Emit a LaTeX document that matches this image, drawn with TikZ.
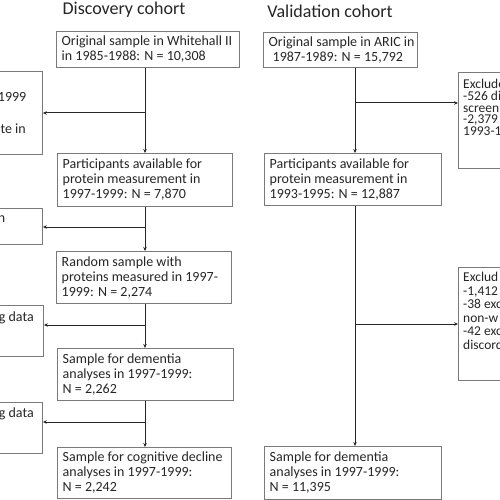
\documentclass[tikz,border=0pt]{standalone}
\usepackage{fontspec}
\setmainfont{Carlito}
\usetikzlibrary{arrows.meta}
\definecolor{boxgray}{HTML}{7A7A7A}
\definecolor{txt}{HTML}{262626}
\tikzset{
  every node/.style={text=txt},
  btxt/.style={font=\fontsize{14}{15}\selectfont, align=left},
  stxt/.style={font=\fontsize{13.5}{11.8}\selectfont, anchor=north west, inner sep=0pt, align=left},
  ftxt/.style={font=\fontsize{14}{15}\selectfont, anchor=base east, inner sep=0pt},
  title/.style={font=\fontsize{18}{20}\selectfont},
  cut/.style={draw=boxgray, line width=0.9pt, anchor=north west, inner sep=0pt},
  conn/.style={draw=black!85, line width=1pt},
  arr/.style={conn, -{Stealth[length=4pt,width=3.5pt]}}
}
\newcommand{\mybox}[6]{% name, x1, y1, x2, y2, text
  \node[draw=boxgray, line width=0.9pt, inner sep=0pt, anchor=north west,
        minimum width={(#4-#2)*1pt}, minimum height={(#5-#3)*1pt}] (#1) at (#2,#3) {};
  \node[btxt, anchor=west, inner sep=0pt] (#1t) at ([xshift=5.5pt]#1.west) {#6};
}
\begin{document}
\begin{tikzpicture}[x=1pt,y=-1pt]
\useasboundingbox (0,0) rectangle (500,500);
\clip (0,0) rectangle (500,500);
\fill[white] (0,0) rectangle (500,500);

% titles
\node[title] (tdisc) at (124,10) {Discovery cohort};
\node[title] (tval) at (330,11) {Validation cohort};

% discovery boxes
\mybox{d1}{56}{31}{239}{67}{Original sample in Whitehall II\\in 1985-1988: N = 10,308}
\mybox{d2}{57}{153}{232}{206}{Participants available for\\protein measurement in\\1997-1999: N = 7,870}
\mybox{d3}{56}{251}{231}{303}{Random sample with\\proteins measured in 1997-\\1999: N = 2,274}
\mybox{d4}{57}{348}{233}{400}{Sample for dementia\\analyses in 1997-1999:\\N = 2,262}
\mybox{d5}{57}{447}{231}{498}{Sample for cognitive decline\\analyses in 1997-1999:\\N = 2,242}

% left (cut) boxes
\node[cut, minimum width=142pt, minimum height=83pt] (L1) at (-100,71) {};
\node[cut, minimum width=142pt, minimum height=36pt] (L2) at (-100,208) {};
\node[cut, minimum width=143pt, minimum height=51pt] (L3) at (-100,305) {};
\node[cut, minimum width=142pt, minimum height=51pt] (L4) at (-100,402) {};
\node[ftxt] (L1a) at (26.5,102) {1999};
\node[ftxt] (L1b) at (26,133) {te in};
\node[ftxt] (L2a) at (5.5,222) {n};
\node[ftxt] (L3a) at (34,321) {g data};
\node[ftxt] (L4a) at (34,417) {g data};

% validation boxes
\mybox{v1}{263}{32}{417}{67}{Original sample in ARIC in\\\hspace*{4pt}1987-1989: N = 15,792}
\mybox{v2}{264}{153}{441}{205}{Participants available for\\protein measurement in\\1993-1995: N = 12,887}
\mybox{v3}{264}{446}{441}{499}{Sample for dementia\\analyses in 1997-1999:\\N = 11,395}

% right (cut) boxes
\node[cut, minimum width=150pt, minimum height=96pt] (R1) at (458,72) {};
\node[cut, minimum width=150pt, minimum height=113pt] (R2) at (458,267) {};
\node[stxt] (R1t) at (463,79) {Excluded\\-526 di\\screen\\-2,379\\1993-1};
\node[stxt, font=\fontsize{13.5}{13.6}\selectfont] (R2t) at (463,272) {Exclud\\-1,412\\-38 exc\\non-w\\-42 exc\\discord};

% trunks
\coordinate (tx) at (145,0);
\coordinate (vx) at (355,0);
\draw[arr] (d1.south -| tx) -- (d2.north -| tx);
\draw[arr] (d2.south -| tx) -- (d3.north -| tx);
\draw[arr] (d3.south -| tx) -- (d4.north -| tx);
\draw[arr] (d4.south -| tx) -- (d5.north -| tx);
\draw[arr] (v1.south -| vx) -- (v2.north -| vx);
\draw[arr] (v2.south -| vx) -- (v3.north -| vx);

% branch arrows
\coordinate (b1) at (145,113);
\coordinate (b2) at (145,227);
\coordinate (b3) at (145,325);
\coordinate (b4) at (145,422);
\draw[arr] (b1) -- (b1 -| L1.east);
\draw[arr] (b2) -- (b2 -| L2.east);
\draw[arr] (b3) -- (b3 -| L3.east);
\draw[arr] (b4) -- (b4 -| L4.east);
\coordinate (c1) at (355,103);
\coordinate (c2) at (355,324);
\draw[arr] (c1) -- (c1 -| R1.west);
\draw[arr] (c2) -- (c2 -| R2.west);
\end{tikzpicture}
\end{document}
